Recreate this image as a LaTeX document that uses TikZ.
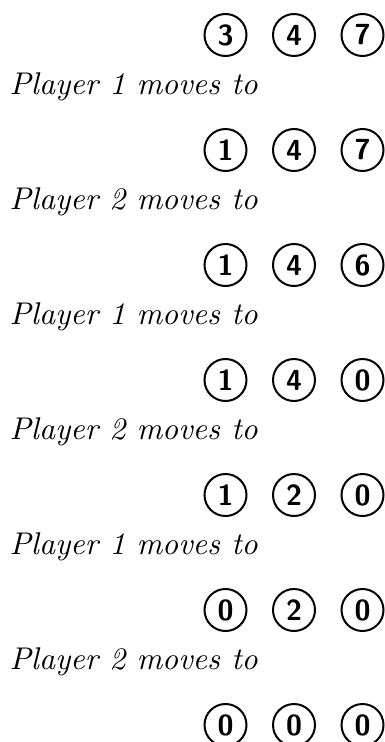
\documentclass[tikz,border=0pt]{standalone}
\newcommand{\bigtxt}[2]{\scalebox{#1}{\fontsize{10}{12}\selectfont #2}}
\begin{document}
\begin{tikzpicture}[x=1pt,y=1pt,
  pile/.style={circle,draw=black,line width=2pt,minimum size=42pt,inner sep=0pt},
  movetext/.style={anchor=base west,inner sep=0pt}]
\useasboundingbox (0,0) rectangle (384,-742);
\foreach \a/\b/\c [count=\i from 0] in {3/4/7,1/4/7,1/4/6,1/4/0,1/2/0,0/2/0,0/0/0}{
  \node[pile] (c\i a) at (225.5,{-35-115*\i}) {\bigtxt{2.9}{\sffamily\bfseries\a}};
  \node[pile] (c\i b) at (294,{-35-115*\i}) {\bigtxt{2.9}{\sffamily\bfseries\b}};
  \node[pile] (c\i c) at (362.5,{-35-115*\i}) {\bigtxt{2.9}{\sffamily\bfseries\c}};
}
\foreach \p [count=\i from 0] in {1,2,1,2,1,2}{
  \node[movetext] (t\i) at (9.5,{-94.3-115*\i}) {\bigtxt{3.14}{\itshape Player \p\ moves to}};
}
\end{tikzpicture}
\end{document}
